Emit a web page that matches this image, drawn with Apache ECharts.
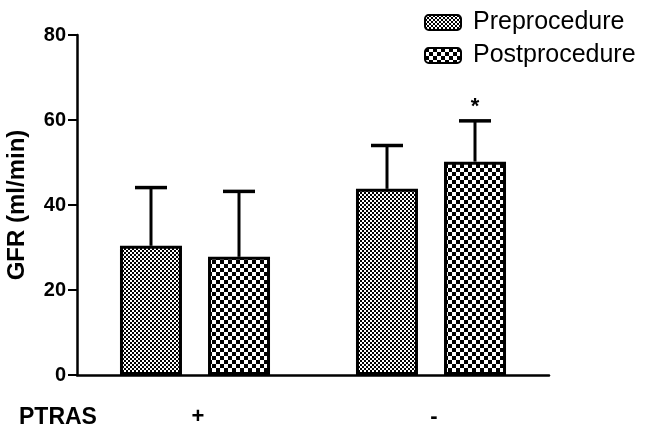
<!DOCTYPE html>
<html>
<head>
<meta charset="utf-8">
<script src="https://cdn.jsdelivr.net/npm/echarts@6/dist/echarts.min.js"></script>
<style>html,body{margin:0;padding:0;background:#fff}#c{width:646px;height:435px}</style>
</head>
<body>
<div id="c"></div>
<script>
var categories = ['+', '-'];
var preMean = [30.4, 43.8];
var preErr = [13.7, 10.2];
var postMean = [27.8, 50.2];
var postErr = [15.4, 9.6];
var seriesNames = ['Preprocedure', 'Postprocedure'];
var yTicks = [0, 20, 40, 60, 80];

function checker(cell) {
  var c = document.createElement('canvas');
  c.width = cell * 2; c.height = cell * 2;
  var g = c.getContext('2d');
  g.fillStyle = '#fff'; g.fillRect(0, 0, c.width, c.height);
  g.fillStyle = '#000';
  g.fillRect(0, 0, cell, cell);
  g.fillRect(cell, cell, cell, cell);
  return c;
}
var prePat = { image: checker(2), repeat: 'repeat' };
var postPat = { image: checker(4), repeat: 'repeat' };

var FONT = 'Liberation Sans, Arial, sans-serif';
var chart = echarts.init(document.getElementById('c'), null, { renderer: 'canvas' });

function errSeries(means, errs, seriesIndex, starIdx) {
  var data = means.map(function (m, i) { return [i, m, m + errs[i]]; });
  return {
    type: 'custom',
    name: 'err' + seriesIndex,
    z: 1,
    renderItem: function (params, api) {
      var ci = api.value(0);
      var lo = api.coord([ci, api.value(1)]);
      var hi = api.coord([ci, api.value(2)]);
      var bw = 62, gap = 26;
      var x = lo[0] + (seriesIndex === 0 ? -(gap / 2 + bw / 2) : (gap / 2 + bw / 2));
      var children = [
        { type: 'line', shape: { x1: x, y1: lo[1], x2: x, y2: hi[1] }, style: { stroke: '#000', lineWidth: 3 } },
        { type: 'line', shape: { x1: x - 16, y1: hi[1], x2: x + 16, y2: hi[1] }, style: { stroke: '#000', lineWidth: 3.5 } }
      ];
      if (starIdx === params.dataIndex) {
        children.push({ type: 'text', style: { text: '*', x: x, y: hi[1] - 3, textAlign: 'center', textVerticalAlign: 'bottom', font: 'bold 22px ' + FONT, fill: '#000' } });
      }
      return { type: 'group', children: children };
    },
    data: data,
    silent: true
  };
}

chart.setOption({
  animation: false,
  backgroundColor: '#fff',
  grid: { left: 77, right: 97, top: 35, bottom: 60, containLabel: false, outerBoundsMode: 'none' },
  legend: {
    orient: 'vertical',
    left: 419, top: 5,
    itemWidth: 36, itemHeight: 15,
    itemGap: 8,
    icon: 'roundRect',
    data: seriesNames,
    textStyle: { fontFamily: FONT, fontSize: 25, color: '#000', padding: [0, 0, 0, 7] }
  },
  xAxis: {
    type: 'category',
    data: categories,
    axisLine: { lineStyle: { color: '#000', width: 2.5 } },
    axisTick: { alignWithLabel: true, length: 9, lineStyle: { color: '#000', width: 2 } },
    axisLabel: { color: '#000', fontFamily: FONT, fontWeight: 'bold', fontSize: 22, margin: 31, padding: [0, 0, 0, 6] }
  },
  yAxis: {
    type: 'value',
    min: 0, max: 80, interval: 20,
    name: 'GFR (ml/min)',
    nameLocation: 'middle',
    nameGap: 48,
    nameTextStyle: { color: '#000', fontFamily: FONT, fontWeight: 'bold', fontSize: 24 },
    axisLine: { show: true, lineStyle: { color: '#000', width: 2.5 } },
    axisTick: { show: true, length: 9, lineStyle: { color: '#000', width: 2 } },
    splitLine: { show: false },
    axisLabel: { color: '#000', fontFamily: FONT, fontWeight: 'bold', fontSize: 20, margin: 11,
      formatter: function (v) { return yTicks.indexOf(v) >= 0 ? String(v) : ''; } }
  },
  graphic: [
    { type: 'text', left: 19, top: 406, style: { text: 'PTRAS', font: 'bold 23px ' + FONT, fill: '#000' } }
  ],
  series: [
    { type: 'bar', name: seriesNames[0], data: preMean, barWidth: 62, barGap: '42%', z: 2,
      itemStyle: { color: prePat, borderColor: '#000', borderWidth: 3 } },
    { type: 'bar', name: seriesNames[1], data: postMean, barWidth: 62, barGap: '42%', z: 2,
      itemStyle: { color: postPat, borderColor: '#000', borderWidth: 3 } },
    errSeries(preMean, preErr, 0, -1),
    errSeries(postMean, postErr, 1, 1)
  ]
});
</script>
</body>
</html>
